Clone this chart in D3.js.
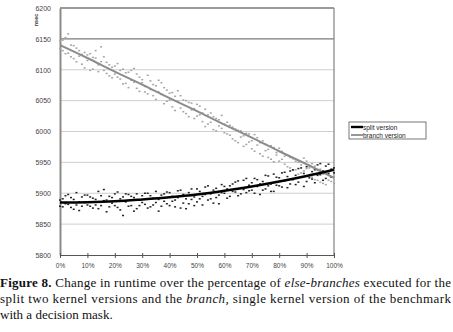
<!DOCTYPE html>
<html lang="en">
<head>
<meta charset="UTF-8">
<script src="https://d3js.org/d3.v7.min.js"></script>
<style>
  body { margin: 0; background: #fff; }
  svg { display: block; }
</style>
</head>
<body>
<svg id="runtimePlot" width="453" height="332"></svg>
<script>
// percentage of else-branches (x values, 0..100 %)
const percents = d3.range(0, 101);

// measured runtimes (nsec), two samples per percentage
const branchA = [6146,6131,6152,6127,6140,6118,6135,6122,6109,6128,
  6115,6126,6101,6119,6108,6137,6099,6112,6090,6104,
  6093,6110,6085,6101,6078,6096,6083,6102,6070,6088,
  6079,6064,6091,6068,6076,6052,6083,6060,6071,6049,
  6062,6040,6057,6066,6038,6051,6029,6047,6035,6021,
  6044,6027,6016,6036,6012,6030,6003,6021,6009,6026,
  5998,6015,5994,6007,5985,6002,5991,5976,5997,5983,
  5972,5995,5978,5964,5985,5969,5958,5977,5951,5966,
  5973,5955,5947,5962,5941,5956,5938,5950,5933,5957,
  5940,5928,5948,5922,5937,5918,5931,5914,5935,5919,5927];
const branchB = [6134,6148,6126,6158,6121,6139,6113,6131,6125,6103,
  6124,6099,6120,6131,6097,6113,6121,6094,6108,6087,
  6106,6088,6099,6077,6095,6071,6099,6080,6093,6065,
  6084,6073,6061,6082,6058,6074,6064,6079,6045,6067,
  6051,6063,6034,6049,6058,6032,6050,6024,6046,6037,
  6025,6041,6030,6008,6027,6015,6024,6001,6019,6005,
  6012,5996,6010,5988,6004,5982,6001,5993,5979,5996,
  5985,5968,5990,5982,5960,5979,5971,5955,5974,5962,
  5952,5968,5960,5943,5958,5937,5952,5931,5946,5936,
  5952,5941,5926,5944,5921,5939,5916,5933,5921,5938,5916];
const splitA = [5889,5878,5896,5882,5893,5874,5901,5886,5879,5897,
  5881,5894,5876,5890,5903,5880,5888,5870,5895,5884,
  5899,5877,5891,5864,5886,5898,5880,5893,5875,5889,
  5896,5882,5900,5878,5892,5885,5871,5897,5887,5902,
  5880,5895,5889,5904,5876,5898,5891,5883,5907,5894,
  5886,5903,5895,5910,5889,5899,5884,5908,5897,5914,
  5900,5892,5912,5903,5918,5896,5909,5921,5901,5913,
  5905,5924,5911,5898,5919,5907,5928,5915,5903,5926,
  5912,5933,5920,5909,5936,5922,5914,5940,5926,5911,
  5943,5925,5935,5917,5946,5930,5921,5944,5932,5926,5941];
const splitB = [5879,5891,5883,5898,5877,5890,5881,5872,5894,5885,
  5897,5879,5892,5881,5875,5896,5906,5889,5878,5893,
  5880,5902,5873,5894,5899,5879,5895,5871,5899,5880,
  5885,5900,5876,5896,5881,5903,5890,5879,5899,5883,
  5901,5887,5878,5893,5905,5884,5875,5901,5890,5880,
  5907,5891,5881,5898,5912,5891,5905,5893,5883,5901,
  5911,5907,5895,5915,5902,5920,5899,5906,5924,5904,
  5917,5900,5922,5915,5905,5929,5912,5903,5931,5913,
  5925,5910,5934,5927,5915,5938,5929,5918,5941,5932,
  5919,5945,5923,5938,5929,5948,5936,5924,5947,5939,5933];

// trend lines, every 10 %
const trendPercents = [0, 10, 20, 30, 40, 50, 60, 70, 80, 90, 100];
const branchTrend = [6140, 6119, 6097, 6076, 6054, 6033, 6011, 5990, 5968, 5947, 5925];
const splitTrend = [5885, 5885.5, 5887, 5890, 5893.5, 5898, 5904, 5911, 5919, 5928, 5938];

const yTicks = [5800, 5850, 5900, 5950, 6000, 6050, 6100, 6150, 6200];
const xTicks = [0, 10, 20, 30, 40, 50, 60, 70, 80, 90, 100];
const seriesNames = ["split version", "branch version"];

const captionLines = [
  "Change in runtime over the percentage of ",
  "split two kernel versions and the ",
  "with a decision mask."
];

const svg = d3.select("svg#runtimePlot");
const margin = { top: 8, left: 60, right: 119, bottom: 77 };
const width = +svg.attr("width");
const height = +svg.attr("height");
const chartWidth = width - margin.left - margin.right;
const chartHeight = height - margin.top - margin.bottom;

const x = d3.scaleLinear().domain([0, 100]).range([0, chartWidth]);
const y = d3.scaleLinear().domain([5800, 6200]).range([chartHeight, 0]);

const chart = svg.append("g")
  .attr("transform", `translate(${margin.left},${margin.top})`);

// gridlines (the 6150 line is drawn darker in the original)
chart.append("g").selectAll("line")
  .data(yTicks.filter(d => d > 5800))
  .join("line")
  .attr("x1", 0).attr("x2", chartWidth)
  .attr("y1", d => y(d)).attr("y2", d => y(d))
  .attr("stroke", d => d >= 6150 ? "#7a7a7a" : "#cfcfcf")
  .attr("stroke-width", d => d >= 6150 ? 1.3 : 1);

// right border
chart.append("line")
  .attr("x1", chartWidth).attr("x2", chartWidth)
  .attr("y1", 0).attr("y2", chartHeight)
  .attr("stroke", "#8c8c8c").attr("stroke-width", 1.3);

// left axis
const leftAxis = d3.axisLeft(y).tickValues(yTicks).tickSize(0).tickPadding(9)
  .tickFormat(d3.format("d"));
chart.append("g")
  .call(leftAxis)
  .call(g => g.select(".domain").attr("stroke", "#8a8a8a").attr("stroke-width", 2))
  .call(g => g.selectAll("text")
    .attr("font-family", "Liberation Sans, Arial, sans-serif")
    .attr("font-size", 7).attr("fill", "#444"));

// bottom axis
const bottomAxis = d3.axisBottom(x).tickValues(xTicks).tickSize(3).tickPadding(5)
  .tickFormat(d => d + "%");
chart.append("g")
  .attr("transform", `translate(0,${chartHeight})`)
  .call(bottomAxis)
  .call(g => g.select(".domain").attr("stroke", "#555"))
  .call(g => g.selectAll(".tick line").attr("y1", -2).attr("stroke", "#555"))
  .call(g => g.selectAll("text")
    .attr("font-family", "Liberation Sans, Arial, sans-serif")
    .attr("font-size", 6.5).attr("fill", "#444"));

// y unit label
svg.append("text")
  .attr("transform", `translate(38,${margin.top + 12}) rotate(-90)`)
  .attr("text-anchor", "middle")
  .attr("font-family", "Liberation Sans, Arial, sans-serif")
  .attr("font-size", 5.5).attr("font-weight", "bold").attr("fill", "#333")
  .text("nsec");

// scatter
function drawPoints(values, color) {
  chart.append("g").selectAll("rect")
    .data(values)
    .join("rect")
    .attr("x", (d, i) => x(percents[i]) - 1)
    .attr("y", d => y(d) - 0.75)
    .attr("width", 2).attr("height", 1.5)
    .attr("fill", color);
}
drawPoints(branchA, "#a5a5a5");
drawPoints(branchB, "#a5a5a5");
drawPoints(splitA, "#222");
drawPoints(splitB, "#222");

// trend lines
const line = d3.line()
  .x((d, i) => x(trendPercents[i]))
  .y(d => y(d))
  .curve(d3.curveMonotoneX);
chart.append("path").datum(branchTrend)
  .attr("d", line).attr("fill", "none")
  .attr("stroke", "#8c8c8c").attr("stroke-width", 2);
chart.append("path").datum(splitTrend)
  .attr("d", line).attr("fill", "none")
  .attr("stroke", "#000").attr("stroke-width", 2.6);

// legend
const legend = svg.append("g").attr("transform", "translate(349,122)");
legend.append("rect")
  .attr("width", 77).attr("height", 17)
  .attr("fill", "#fff").attr("stroke", "#555").attr("stroke-width", 0.8);
const legendColors = ["#000", "#8c8c8c"];
seriesNames.forEach((name, i) => {
  legend.append("line")
    .attr("x1", 2).attr("x2", 14)
    .attr("y1", 5 + i * 8).attr("y2", 5 + i * 8)
    .attr("stroke", legendColors[i]).attr("stroke-width", i === 0 ? 2.4 : 1.8);
  legend.append("text")
    .attr("x", 14).attr("y", 7.5 + i * 8)
    .attr("font-family", "Liberation Sans, Arial, sans-serif")
    .attr("font-size", 6.5).attr("fill", "#222")
    .text(name);
});

// caption
const cap = svg.append("g")
  .attr("font-family", "Liberation Serif, 'DejaVu Serif', serif")
  .attr("font-size", 13).attr("fill", "#111");
const l1 = cap.append("text").attr("x", 0).attr("y", 287)
  .attr("textLength", 451).attr("lengthAdjust", "spacing");
l1.append("tspan").attr("font-weight", "bold").text("Figure 8. ");
l1.append("tspan").text(captionLines[0]);
l1.append("tspan").attr("font-style", "italic").text("else-branches");
l1.append("tspan").text(" executed for the");
const l2 = cap.append("text").attr("x", 0).attr("y", 303)
  .attr("textLength", 451).attr("lengthAdjust", "spacing");
l2.append("tspan").text(captionLines[1]);
l2.append("tspan").attr("font-style", "italic").text("branch,");
l2.append("tspan").text(" single kernel version of the benchmark");
cap.append("text").attr("x", 0).attr("y", 319).text(captionLines[2]);
</script>
</body>
</html>
